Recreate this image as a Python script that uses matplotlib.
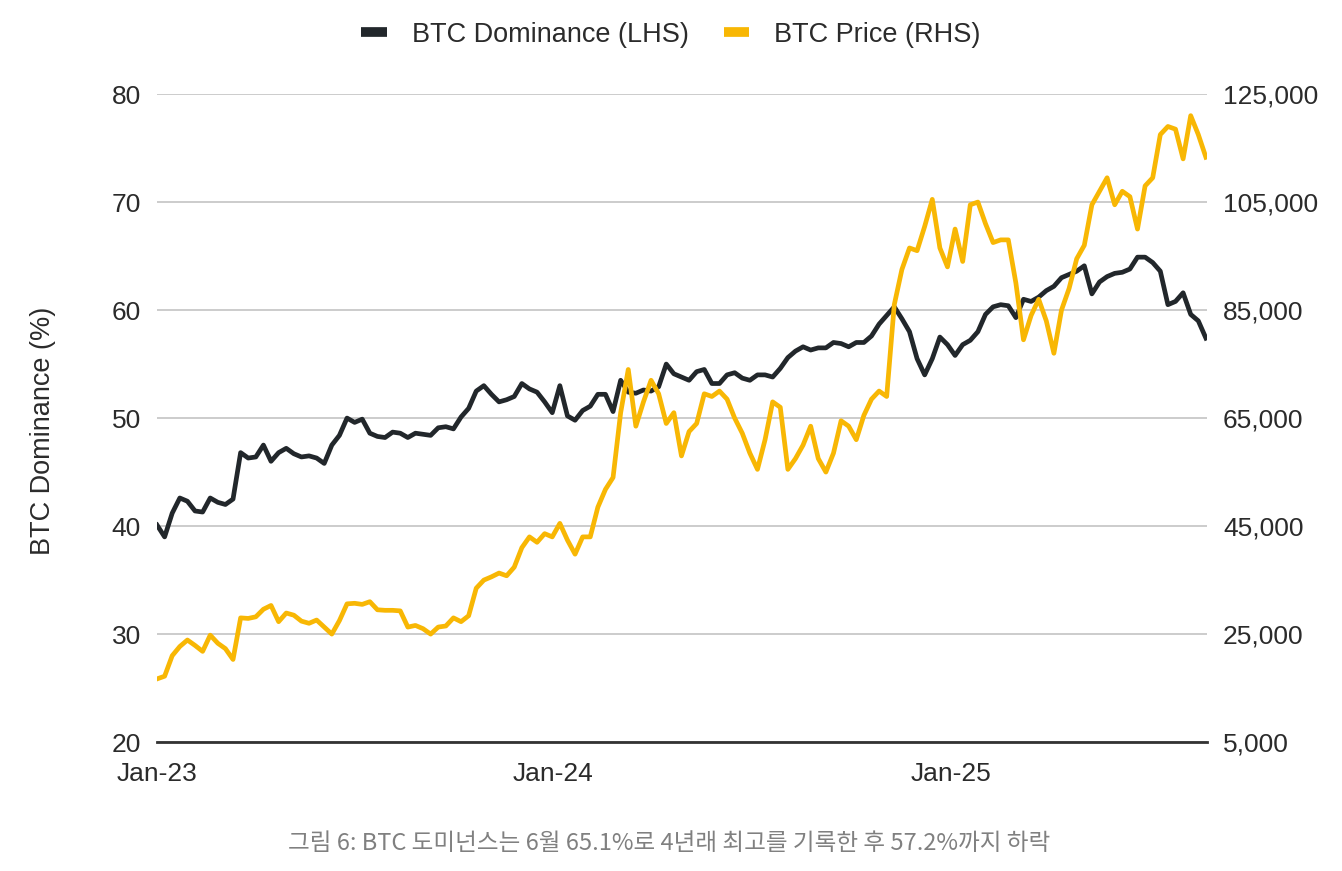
import numpy as np
import pandas as pd
import matplotlib
matplotlib.use("Agg")
import matplotlib.pyplot as plt
import matplotlib.dates as mdates
from matplotlib.lines import Line2D
from matplotlib.ticker import FuncFormatter

plt.rcParams['font.family'] = ['Liberation Sans', 'DejaVu Sans']

# weekly samples, starting 1 Jan 2023
dates = pd.date_range('2023-01-01', periods=139, freq='7D')

# BTC dominance (%)
dominance = [
    40.1, 39.0, 41.2, 42.6, 42.3, 41.4, 41.3, 42.6, 42.2, 42.0,
    42.5, 46.8, 46.3, 46.4, 47.5, 46.0, 46.8, 47.2, 46.7, 46.4,
    46.5, 46.3, 45.8, 47.5, 48.4, 50.0, 49.6, 49.9, 48.6, 48.3,
    48.2, 48.7, 48.6, 48.2, 48.6, 48.5, 48.4, 49.1, 49.2, 49.0,
    50.1, 50.9, 52.5, 53.0, 52.2, 51.5, 51.7, 52.0, 53.2, 52.7,
    52.4, 51.5, 50.5, 53.0, 50.2, 49.8, 50.7, 51.1, 52.2, 52.2,
    50.6, 53.5, 52.4, 52.3, 52.6, 52.5, 52.9, 55.0, 54.1, 53.8,
    53.5, 54.3, 54.5, 53.2, 53.2, 54.0, 54.2, 53.7, 53.5, 54.0,
    54.0, 53.8, 54.6, 55.6, 56.2, 56.6, 56.3, 56.5, 56.5, 57.0,
    56.9, 56.6, 57.0, 57.0, 57.6, 58.7, 59.5, 60.3, 59.2, 58.0,
    55.5, 54.0, 55.5, 57.5, 56.8, 55.8, 56.8, 57.2, 58.0, 59.6,
    60.3, 60.5, 60.4, 59.3, 61.0, 60.8, 61.2, 61.8, 62.2, 63.0,
    63.3, 63.6, 64.1, 61.5, 62.6, 63.1, 63.4, 63.5, 63.8, 64.9,
    64.9, 64.4, 63.6, 60.5, 60.8, 61.6, 59.6, 59.0, 57.4,
]

# BTC price (USD)
price = [
    16700, 17200, 21000, 22700, 23900, 22900, 21800, 24800, 23300, 22300,
    20300, 28000, 27900, 28200, 29600, 30300, 27300, 28900, 28500, 27400,
    27000, 27600, 26300, 25000, 27500, 30600, 30700, 30500, 31000, 29500,
    29400, 29400, 29300, 26300, 26600, 26000, 25000, 26300, 26500, 28000,
    27300, 28400, 33500, 35000, 35600, 36300, 35800, 37400, 41000, 43000,
    42000, 43600, 43000, 45500, 42400, 39800, 43000, 43000, 48500, 51800,
    54000, 66000, 74000, 63500, 68000, 72000, 69500, 64000, 66000, 58000,
    62500, 64000, 69500, 69000, 70000, 68500, 65000, 62200, 58500, 55500,
    61000, 68000, 67000, 55500, 57500, 60000, 63500, 57500, 55000, 58500,
    64500, 63500, 61000, 65500, 68500, 70000, 69000, 86000, 92500, 96500,
    96000, 100500, 105500, 96500, 93000, 100000, 94000, 104500, 105000, 101000,
    97500, 98000, 98000, 90000, 79500, 84000, 87000, 83000, 77000, 85000,
    89000, 94500, 97000, 104500, 107000, 109500, 104500, 107000, 106000, 100000,
    108000, 109500, 117500, 119000, 118500, 113000, 121000, 117500, 113300,
]

year_ticks = pd.to_datetime(['2023-01-01', '2024-01-01', '2025-01-01'])

dark = '#22272b'
gold = '#F8B704'
text_col = '#2b2b2b'

fig = plt.figure(figsize=(13.42, 8.71), dpi=100)
ax = fig.add_axes([0.117, 0.148, 0.7824, 0.744])
ax2 = ax.twinx()

ax.plot(dates, dominance, color=dark, lw=3.4, solid_joinstyle='round')
ax2.plot(dates, price, color=gold, lw=3.4, solid_joinstyle='round')

ax.set_ylim(20, 80)
ax.set_yticks(np.arange(20, 81, 10))
ax2.set_ylim(5000, 125000)
ax2.set_yticks(np.arange(5000, 125001, 20000))
ax2.yaxis.set_major_formatter(FuncFormatter(lambda v, p: f'{int(v):,}'))

ax.set_xlim(pd.Timestamp('2023-01-01'), pd.Timestamp('2025-08-25'))
ax.set_xticks(year_ticks)
ax.xaxis.set_major_formatter(mdates.DateFormatter('%b-%y'))

ax.grid(axis='y', color='#cccccc', lw=1.4)
ax.set_axisbelow(True)
for a in (ax, ax2):
    for s in ('top', 'left', 'right'):
        a.spines[s].set_visible(False)
    a.spines['bottom'].set_color('#333333')
    a.spines['bottom'].set_linewidth(2)
    a.tick_params(length=0, labelsize=19, colors=text_col)
ax2.spines['bottom'].set_visible(False)
ax.tick_params(axis='y', pad=11.5)
ax.tick_params(axis='x', pad=14)
ax2.tick_params(axis='y', pad=11.5)

ax.set_ylabel('BTC Dominance (%)', fontsize=19.5, color=text_col)
ax.yaxis.set_label_coords(-0.096, 0.48)

handles = [Line2D([0], [0], color=dark, lw=7, solid_capstyle='butt'),
           Line2D([0], [0], color=gold, lw=7, solid_capstyle='butt')]
fig.legend(handles, ['BTC Dominance (LHS)', 'BTC Price (RHS)'],
           loc='center', bbox_to_anchor=(0.5, 0.96), ncol=2, frameon=False,
           fontsize=19.5, handlelength=0.93, handletextpad=0.93, columnspacing=1.3,
           labelcolor=text_col)

fig.text(0.4985, 0.032, '그림 6: BTC 도미넌스는 6월 65.1%로 4년래 최고를 기록한 후 57.2%까지 하락',
         ha='center', va='center', fontsize=17, color='#808080', style='italic',
         family=['Noto Sans CJK KR', 'DejaVu Sans'])

fig.savefig('out.png', dpi=100)
